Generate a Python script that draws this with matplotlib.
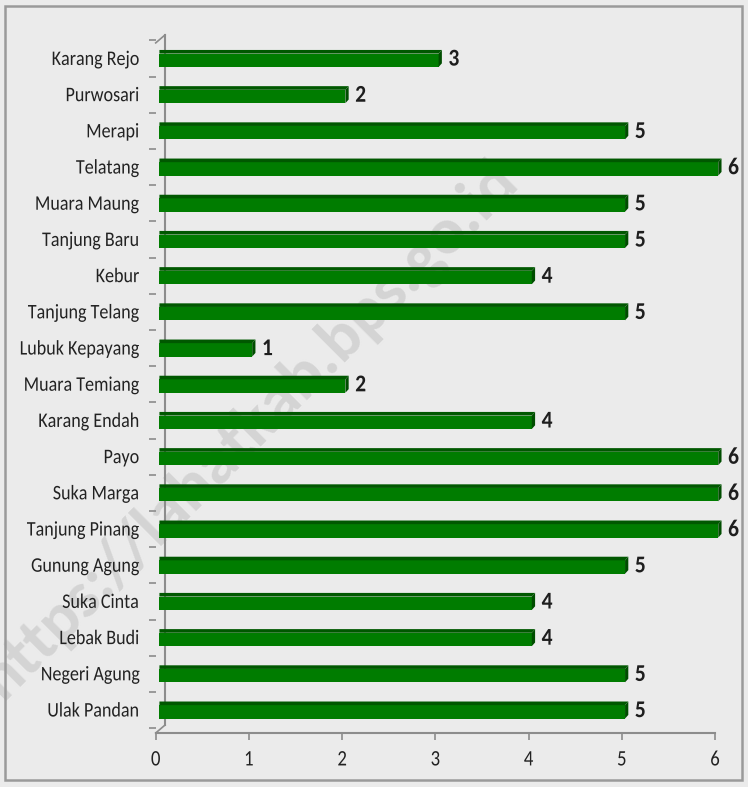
import matplotlib.pyplot as plt
import numpy as np
from matplotlib.patches import Polygon, Rectangle
from matplotlib.lines import Line2D
from matplotlib.patheffects import AbstractPathEffect
from matplotlib.transforms import Affine2D

# data, listed top to bottom as in the chart
villages = ["Karang Rejo", "Purwosari", "Merapi", "Telatang", "Muara Maung",
            "Tanjung Baru", "Kebur", "Tanjung Telang", "Lubuk Kepayang",
            "Muara Temiang", "Karang Endah", "Payo", "Suka Marga",
            "Tanjung Pinang", "Gunung Agung", "Suka Cinta", "Lebak Budi",
            "Negeri Agung", "Ulak Pandan"]
counts = [3, 2, 5, 6, 5, 5, 4, 5, 1, 2, 4, 6, 6, 6, 5, 4, 4, 5, 5]
xticks = [0, 1, 2, 3, 4, 5, 6]

plt.rcParams['font.family'] = ['Carlito', 'DejaVu Sans']


class Stretch(AbstractPathEffect):
    # the original text looks a bit taller than plain Calibri
    def __init__(self, sy):
        super().__init__()
        self.sy = sy

    def draw_path(self, renderer, gc, tpath, affine, rgbFace=None):
        renderer.draw_path(gc, tpath, Affine2D().scale(1, self.sy) + affine, rgbFace)


W, H = 748, 787
bg = '#ebebeb'
fig = plt.figure(figsize=(W / 100, H / 100), dpi=100, facecolor=bg)

# outer frame
fig.add_artist(Rectangle((5 / W, 7 / H), 737 / W, 774 / H, transform=fig.transFigure,
                         fill=False, edgecolor='#9a9a9a', linewidth=1.8))

# faint watermark behind the chart
fig.text(250 / W, 1 - 430 / H, "https://lahatkab.bps.go.id", rotation=45,
         fontsize=48, fontweight='bold', color='#d4d4d4',
         ha='center', va='center', zorder=-1)

ax_left, ax_right = 155.7, 715.0
ax_bot, ax_top = 733.0, 40.0
ax = fig.add_axes([ax_left / W, 1 - ax_bot / H, (ax_right - ax_left) / W, (ax_bot - ax_top) / H])
ax.patch.set_alpha(0)

n = len(villages)
ypos = np.arange(n)[::-1]          # first village on top
ax.set_xlim(0, 6)
ax.set_ylim(-0.635, 18.51)

for s in ['top', 'right', 'left']:
    ax.spines[s].set_visible(False)
gray = '#8c8c8c'
ax.spines['bottom'].set_color(gray)
ax.spines['bottom'].set_linewidth(1.5)

# 3D-ish bars
h = 0.47
off = 0.04      # shift from origin
dx = 0.035      # depth in x
dy = 0.1        # depth in y
front = '#007c00'
top_c = '#005800'
side_c = '#004d00'
for y, v in zip(ypos, counts):
    x0, x1 = off, v + dx
    yb, yt = y - h / 2, y + h / 2 - dy
    ax.add_patch(Rectangle((x0, yb), x1 - x0, yt - yb, facecolor=front,
                           edgecolor='none', zorder=3, clip_on=False))
    ax.add_patch(Polygon([(x0, yt), (x1, yt), (x1 + dx, yt + dy), (x0, yt + dy)],
                         closed=True, facecolor=top_c, edgecolor='none', zorder=3, clip_on=False))
    ax.add_patch(Polygon([(x1, yb), (x1, yt), (x1 + dx, yt + dy), (x1 + dx, yb + dy)],
                         closed=True, facecolor=side_c, edgecolor='none', zorder=3, clip_on=False))
    ax.text(v + 0.14, y - 0.03, str(v), fontsize=15.5, fontweight='bold', color='#1e1e1e',
            ha='left', va='center', zorder=4, path_effects=[Stretch(1.12)])

# back wall and corner edges
wall_x = 0.1
ax.add_line(Line2D([wall_x, wall_x], [-0.635 + 0.22, 18.51 + 0.14], color=gray, lw=1.5, clip_on=False))
ax.add_line(Line2D([0, wall_x], [-0.635, -0.635 + 0.22], color=gray, lw=1.2, clip_on=False))
ax.add_line(Line2D([0, wall_x], [18.51 - 0.08, 18.51 + 0.14], color=gray, lw=1.2, clip_on=False))

# category labels and boundary ticks
ax.set_yticks(ypos)
ax.set_yticklabels(villages, fontsize=13, color='#222222')
ax.tick_params(axis='y', length=0, pad=12)
ax.set_yticks(np.arange(-0.5, n, 1.0), minor=True)
ax.tick_params(axis='y', which='minor', length=5, width=1.2, color=gray, direction='out')

ax.set_xticks(xticks)
ax.set_xticklabels([str(t) for t in xticks], fontsize=13.5, color='#222222')
ax.tick_params(axis='x', length=5, width=1.2, color=gray, direction='out', pad=9)

for lab in ax.get_yticklabels():
    lab.set_path_effects([Stretch(1.15)])
for lab in ax.get_xticklabels():
    lab.set_path_effects([Stretch(1.18)])

fig.savefig('out.png', dpi=100, facecolor=fig.get_facecolor())
